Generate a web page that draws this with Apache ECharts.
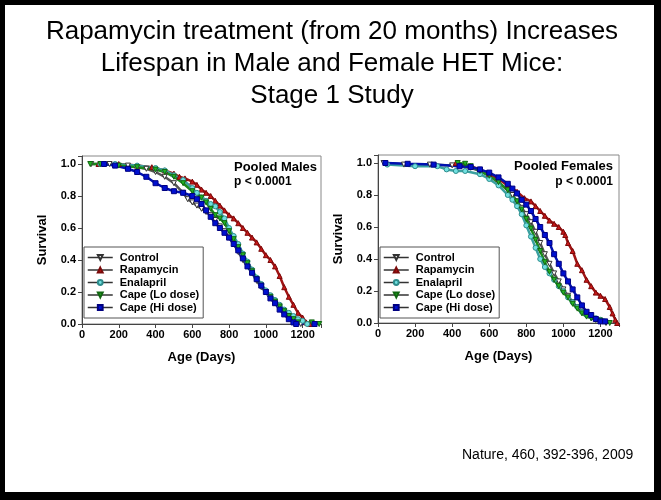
<!DOCTYPE html>
<html><head><meta charset="utf-8">
<script src="https://cdn.jsdelivr.net/npm/echarts@6/dist/echarts.min.js"></script>
<style>html,body{margin:0;padding:0;background:#000;}#c{width:661px;height:500px;}</style>
</head><body><div id="c"></div>
<script>
// ---- data (age in days, survival fraction) ----
const seriesNames = ['Control', 'Rapamycin', 'Enalapril', 'Cape (Lo dose)', 'Cape (Hi dose)'];
const xTicks = [0, 200, 400, 600, 800, 1000, 1200];
const yTicks = [0.0, 0.2, 0.4, 0.6, 0.8, 1.0];

const maleControl = [[50,1.0],[150,1.0],[250,0.99],[300,0.98],[350,0.97],[400,0.95],[450,0.92],[500,0.88],[550,0.82],[575,0.78],[600,0.76],[625,0.74],[650,0.72],[675,0.70],[700,0.68],[725,0.65],[750,0.61],[775,0.58],[800,0.54],[825,0.50],[850,0.45],[875,0.40],[900,0.36],[925,0.32],[950,0.27],[975,0.23],[1000,0.20],[1025,0.16],[1050,0.13],[1075,0.10],[1100,0.07],[1125,0.05],[1150,0.03],[1175,0.01],[1190,0.0]];
const maleRapamycin = [[90,1.0],[200,1.0],[300,0.99],[380,0.98],[450,0.96],[500,0.94],[530,0.92],[560,0.91],[600,0.89],[625,0.87],[650,0.84],[675,0.82],[700,0.80],[725,0.77],[750,0.74],[775,0.71],[800,0.68],[825,0.66],[850,0.63],[875,0.60],[900,0.57],[925,0.54],[950,0.51],[975,0.47],[1000,0.43],[1025,0.40],[1050,0.36],[1075,0.30],[1100,0.23],[1125,0.17],[1150,0.12],[1175,0.07],[1200,0.04],[1220,0.01],[1240,0.0]];
const maleEnalapril = [[100,1.0],[180,1.0],[300,0.99],[400,0.975],[450,0.96],[500,0.93],[550,0.90],[600,0.85],[625,0.82],[650,0.79],[675,0.77],[700,0.75],[725,0.735],[750,0.70],[775,0.66],[800,0.60],[825,0.55],[850,0.50],[875,0.44],[900,0.39],[925,0.34],[950,0.29],[975,0.25],[1000,0.21],[1025,0.18],[1050,0.15],[1075,0.12],[1100,0.09],[1125,0.07],[1150,0.05],[1175,0.03],[1200,0.02],[1225,0.0]];
const maleCapeLo = [[45,1.0],[100,1.0],[200,0.99],[300,0.98],[400,0.965],[450,0.95],[500,0.92],[550,0.88],[600,0.83],[650,0.79],[675,0.76],[700,0.72],[725,0.68],[750,0.66],[775,0.63],[800,0.58],[825,0.53],[850,0.48],[875,0.43],[900,0.38],[925,0.33],[950,0.28],[975,0.24],[1000,0.20],[1025,0.17],[1050,0.14],[1075,0.11],[1100,0.08],[1125,0.05],[1150,0.03],[1175,0.01],[1250,0.01],[1290,0.0]];
const maleCapeHi = [[120,1.0],[180,0.99],[250,0.97],[300,0.95],[350,0.92],[400,0.88],[450,0.85],[500,0.83],[550,0.82],[600,0.80],[625,0.78],[650,0.75],[675,0.71],[700,0.67],[725,0.63],[750,0.60],[775,0.57],[800,0.54],[825,0.50],[850,0.46],[875,0.41],[900,0.36],[925,0.32],[950,0.28],[975,0.24],[1000,0.20],[1025,0.16],[1050,0.13],[1075,0.09],[1100,0.06],[1125,0.03],[1150,0.01],[1165,0.0],[1265,0.0]];

const femaleControl = [[30,1.0],[140,0.99],[280,0.99],[400,0.985],[500,0.97],[550,0.95],[600,0.92],[650,0.88],[700,0.83],[725,0.80],[750,0.76],[775,0.72],[800,0.68],[825,0.63],[850,0.57],[875,0.50],[900,0.43],[925,0.37],[950,0.31],[975,0.26],[1000,0.21],[1025,0.17],[1050,0.13],[1075,0.10],[1100,0.07],[1125,0.05],[1150,0.03],[1175,0.02],[1200,0.01],[1230,0.0]];
const femaleRapamycin = [[420,1.0],[500,0.98],[550,0.96],[600,0.93],[650,0.90],[700,0.86],[750,0.82],[790,0.78],[825,0.76],[850,0.73],[875,0.70],[900,0.67],[925,0.64],[950,0.62],[975,0.60],[1000,0.57],[1010,0.55],[1025,0.50],[1050,0.45],[1075,0.37],[1100,0.33],[1125,0.27],[1150,0.23],[1175,0.19],[1200,0.17],[1225,0.15],[1250,0.10],[1265,0.06],[1280,0.02],[1290,0.0]];
const femaleEnalapril = [[50,0.99],[200,0.98],[320,0.98],[370,0.96],[420,0.95],[470,0.95],[550,0.93],[600,0.90],[650,0.86],[700,0.80],[725,0.77],[750,0.73],[775,0.68],[800,0.61],[825,0.54],[850,0.47],[875,0.40],[900,0.35],[925,0.31],[950,0.27],[975,0.23],[1000,0.20],[1025,0.16],[1050,0.13],[1075,0.10],[1100,0.07],[1125,0.05],[1150,0.04],[1175,0.03],[1200,0.02],[1220,0.01]];
const femaleCapeLo = [[430,1.0],[470,0.995],[500,0.98],[550,0.95],[600,0.92],[650,0.88],[700,0.83],[750,0.76],[775,0.71],[800,0.65],[825,0.59],[850,0.52],[875,0.45],[900,0.38],[925,0.32],[950,0.27],[975,0.23],[1000,0.19],[1025,0.16],[1050,0.12],[1075,0.09],[1100,0.06],[1125,0.04],[1150,0.03],[1175,0.02],[1200,0.015],[1250,0.0]];
const femaleCapeHi = [[40,1.0],[160,0.995],[300,0.99],[440,0.98],[500,0.975],[550,0.96],[600,0.94],[650,0.91],[700,0.87],[725,0.84],[750,0.81],[775,0.77],[800,0.74],[825,0.70],[850,0.65],[875,0.60],[900,0.55],[925,0.50],[950,0.43],[975,0.37],[1000,0.31],[1025,0.26],[1050,0.21],[1075,0.16],[1100,0.11],[1125,0.07],[1150,0.05],[1175,0.025],[1200,0.01],[1225,0.01]];

const maleData = [maleControl, maleRapamycin, maleEnalapril, maleCapeLo, maleCapeHi];
const femaleData = [femaleControl, femaleRapamycin, femaleEnalapril, femaleCapeLo, femaleCapeHi];

// ---- styles ----
const FONT = '"Liberation Sans", Arial, sans-serif';
const styles = [
  {symbol:'triangle', rot:180, fill:'#ffffff', border:'#333333', line:'#555555'},
  {symbol:'triangle', rot:0, fill:'#c81818', border:'#7a0a0a', line:'#a01414'},
  {symbol:'circle', rot:0, fill:'#70e0e0', border:'#2f8c8c', line:'#3aa0a0'},
  {symbol:'triangle', rot:180, fill:'#22b422', border:'#116611', line:'#1a8a1a'},
  {symbol:'rect', rot:0, fill:'#0010d0', border:'#000080', line:'#0010b0'}
];

const chart = echarts.init(document.getElementById('c'));

function makeSeries(dataSets, idx) {
  return dataSets.map((d, i) => ({
    type:'line', name: seriesNames[i], xAxisIndex: idx, yAxisIndex: idx,
    data: d, symbol: styles[i].symbol, symbolRotate: styles[i].rot, symbolSize: 5,
    showAllSymbol: true, animation:false,
    lineStyle:{color: styles[i].line, width: 2.5},
    itemStyle:{color: styles[i].fill, borderColor: styles[i].border, borderWidth: 1},
    emphasis:{disabled:true}
  }));
}

function xAxis(g) {
  return {type:'value', gridIndex:g, min:0, max:1300, interval:200,
    name:'Age (Days)', nameLocation:'middle', nameGap:27,
    nameTextStyle:{fontFamily:FONT, fontWeight:'bold', fontSize:13, color:'#000'},
    axisLine:{show:true, lineStyle:{color:'#444', width:1}},
    axisTick:{show:true, inside:false, length:4, lineStyle:{color:'#444'}},
    splitLine:{show:false},
    axisLabel:{fontFamily:FONT, fontWeight:'bold', fontSize:11, color:'#000', margin:5,
      formatter: v => xTicks.indexOf(v) >= 0 ? String(v) : ''}
  };
}
function yAxis(g, gap) {
  return {type:'value', gridIndex:g, min:0, max:1.05, interval:0.2,
    name:'Survival', nameLocation:'middle', nameGap:gap, nameRotate:90,
    nameTextStyle:{fontFamily:FONT, fontWeight:'bold', fontSize:13, color:'#000'},
    axisLine:{show:true, lineStyle:{color:'#444', width:1}},
    axisTick:{show:true, inside:false, length:4, lineStyle:{color:'#444'}},
    splitLine:{show:false},
    axisLabel:{fontFamily:FONT, fontWeight:'bold', fontSize:11, color:'#000', margin:6,
      formatter: v => { const t = yTicks.find(y => Math.abs(y - v) < 1e-6); return t === undefined ? '' : t.toFixed(1); }}
  };
}
function legend(left, top) {
  return {show:true, orient:'vertical', left:left, top:top, data: seriesNames,
    itemWidth:25, itemHeight:6, itemGap:1.5, padding:[5,4,5,3],
    borderColor:'#555', borderWidth:1, backgroundColor:'#fff',
    lineStyle:{color:'#333', width:1.5},
    textStyle:{fontFamily:FONT, fontWeight:'bold', fontSize:11, color:'#000', padding:[0,0,0,2]},
    selectedMode:false};
}

const option = {
  backgroundColor:'#000',
  animation:false,
  graphic:[
    {type:'rect', z:-10, silent:true, shape:{x:5, y:5, width:649, height:487}, style:{fill:'#fff'}},
    {type:'text', x:332, y:32, style:{text:'Rapamycin treatment (from 20 months) Increases', font:'26px ' + FONT, fill:'#000', textAlign:'center', textVerticalAlign:'middle'}},
    {type:'text', x:332, y:64, style:{text:'Lifespan in Male and Female HET Mice:', font:'26px ' + FONT, fill:'#000', textAlign:'center', textVerticalAlign:'middle'}},
    {type:'text', x:332, y:96, style:{text:'Stage 1 Study', font:'26px ' + FONT, fill:'#000', textAlign:'center', textVerticalAlign:'middle'}},
    {type:'text', x:234, y:167, z:10, style:{text:'Pooled Males', font:'bold 13px ' + FONT, fill:'#000', textAlign:'left', textVerticalAlign:'middle'}},
    {type:'text', x:234, y:182, z:10, style:{text:'p < 0.0001', font:'bold 12px ' + FONT, fill:'#000', textAlign:'left', textVerticalAlign:'middle'}},
    {type:'text', x:613, y:166, z:10, style:{text:'Pooled Females', font:'bold 13px ' + FONT, fill:'#000', textAlign:'right', textVerticalAlign:'middle'}},
    {type:'text', x:613, y:182, z:10, style:{text:'p < 0.0001', font:'bold 12px ' + FONT, fill:'#000', textAlign:'right', textVerticalAlign:'middle'}},
    {type:'text', x:462, y:455, style:{text:'Nature, 460, 392-396, 2009', font:'14px ' + FONT, fill:'#000', textAlign:'left', textVerticalAlign:'middle'}}
  ],
  grid:[
    {left:82, top:156, width:239, height:168, show:true, borderColor:'#888', borderWidth:1, backgroundColor:'transparent'},
    {left:378, top:155, width:241, height:168, show:true, borderColor:'#888', borderWidth:1, backgroundColor:'transparent'}
  ],
  xAxis:[xAxis(0), xAxis(1)],
  yAxis:[yAxis(0, 33), yAxis(1, 33)],
  legend:[legend(84, 247), legend(380, 247)],
  series: makeSeries(maleData, 0).concat(makeSeries(femaleData, 1))
};
chart.setOption(option);
</script></body></html>
